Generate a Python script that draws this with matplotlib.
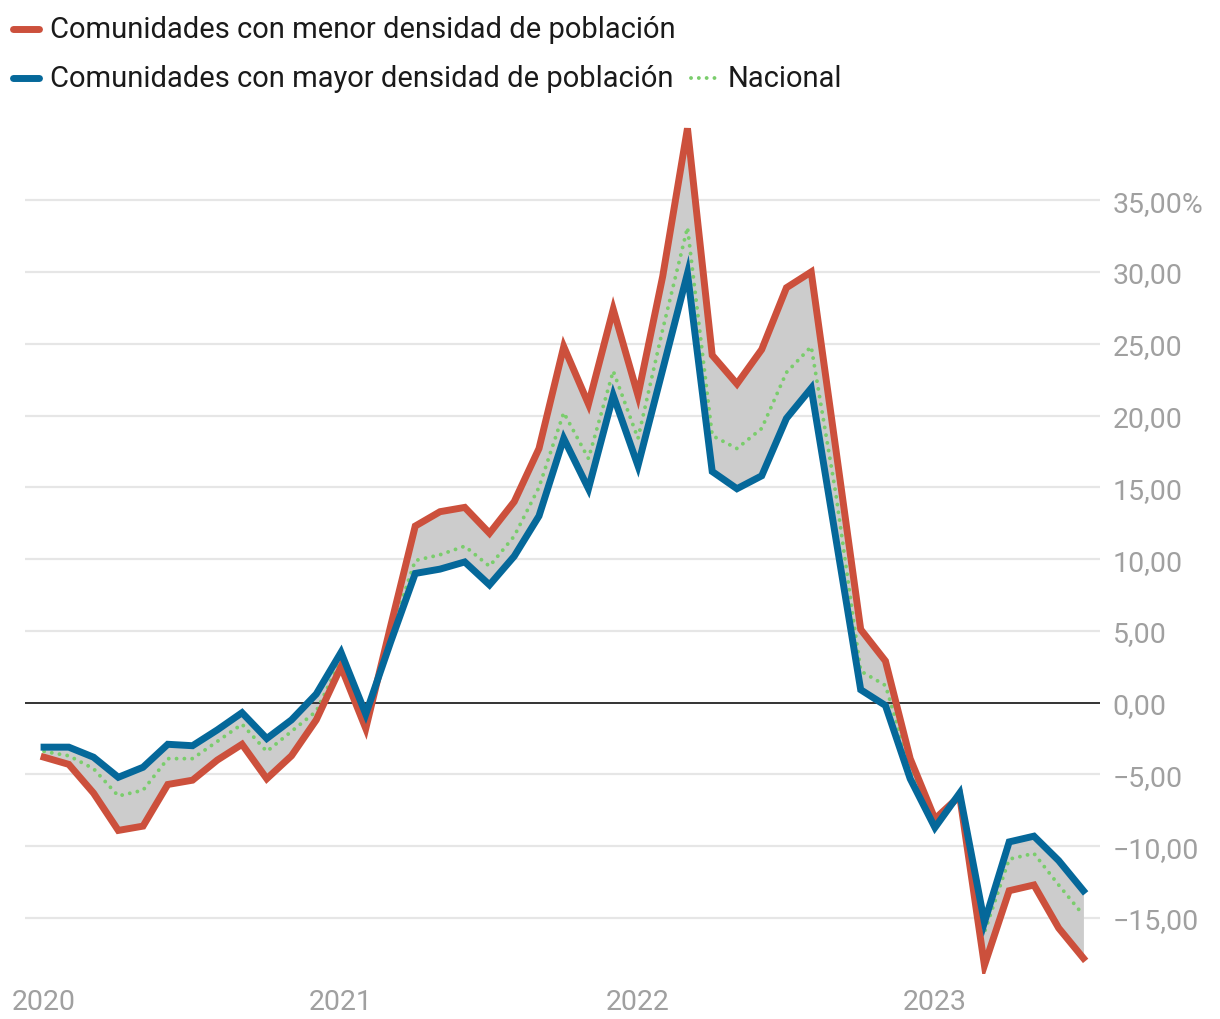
import numpy as np
import matplotlib.pyplot as plt
from matplotlib.lines import Line2D

plt.rcParams['font.family'] = ['Roboto', 'DejaVu Sans']

# meses desde enero 2020 hasta julio 2023
meses = np.arange(43)

menor = [-3.8, -4.3, -6.3, -8.9, -8.6, -5.7, -5.4, -4.0, -2.9, -5.3, -3.7, -1.2,
         2.5, -1.8, 5.3, 12.3, 13.3, 13.6, 11.8, 14.0, 17.7, 24.8, 20.8, 27.4,
         21.4, 29.7, 40.0, 24.2, 22.2, 24.6, 28.9, 30.0, 17.6, 5.1, 2.9, -3.9,
         -8.1, -6.5, -18.3, -13.1, -12.7, -15.7, -17.8]

mayor = [-3.1, -3.1, -3.8, -5.2, -4.5, -2.9, -3.0, -1.9, -0.7, -2.5, -1.2, 0.6,
         3.5, -0.8, 4.2, 9.0, 9.3, 9.8, 8.2, 10.2, 13.0, 18.4, 14.9, 21.4,
         16.5, 23.2, 29.9, 16.1, 14.9, 15.8, 19.8, 21.9, 11.4, 0.9, -0.2, -5.3,
         -8.7, -6.3, -15.3, -9.7, -9.3, -11.0, -13.1]

nacional = [-3.4, -3.7, -4.6, -6.5, -6.1, -3.9, -3.9, -2.7, -1.5, -3.4, -2.0, -0.6,
            3.0, -1.2, 4.8, 9.9, 10.3, 10.9, 9.5, 11.6, 15.0, 20.2, 17.0, 23.1,
            18.4, 26.0, 33.1, 18.6, 17.7, 19.1, 23.0, 24.8, 14.5, 2.2, 1.2, -4.5,
            -8.4, -6.4, -16.0, -10.9, -10.5, -12.7, -14.8]

y_ticks = [-15, -10, -5, 0, 5, 10, 15, 20, 25, 30, 35]
y_labels = ['\u221215,00', '\u221210,00', '\u22125,00', '0,00', '5,00', '10,00',
            '15,00', '20,00', '25,00', '30,00', '35,00%']
x_ticks = [0, 12, 24, 36]
x_labels = ['2020', '2021', '2022', '2023']

ROJO = '#cc503c'
AZUL = '#05689a'
VERDE = '#7acd6c'
GRIS = '#a0a0a0'
PUNTOS = (0, (0.01, 2.0))

fig = plt.figure(figsize=(12.2, 10.2), dpi=100)
ax = fig.add_axes([25 / 1220, 45 / 1020, 1075 / 1220, 860 / 1020])

ax.set_xlim(-0.77, 42.67)
ax.set_ylim(-18.9, 41.0)

for t in y_ticks:
    if t != 0:
        ax.axhline(t, color='#e6e6e6', lw=1.6, zorder=0)
ax.axhline(0, color='#333333', lw=1.4, zorder=2)

ax.fill_between(meses, menor, mayor, color='#cccccc', lw=0, zorder=1)
ax.plot(meses, nacional, color=VERDE, lw=2.8, ls=PUNTOS,
        dash_capstyle='round', zorder=3)
ax.plot(meses, menor, color=ROJO, lw=5, solid_joinstyle='miter', zorder=4)
ax.plot(meses, mayor, color=AZUL, lw=5, solid_joinstyle='miter', zorder=5)

ax.yaxis.tick_right()
ax.set_yticks(y_ticks)
ax.set_yticklabels(y_labels)
ax.set_xticks(x_ticks)
ax.set_xticklabels(x_labels)
ax.tick_params(axis='both', length=0, labelsize=20.5, labelcolor=GRIS)
ax.tick_params(axis='y', pad=9)
ax.tick_params(axis='x', pad=10)
for s in ax.spines.values():
    s.set_visible(False)

# leyenda manual
def item(x0, y, color, texto, ls='-', lw=5.0):
    fig.add_artist(Line2D([x0 / 1220, (x0 + 26) / 1220], [1 - y / 1020, 1 - y / 1020],
                          color=color, lw=lw, ls=ls, solid_capstyle='round',
                          dash_capstyle='round'))
    fig.text((x0 + 37) / 1220, 1 - y / 1020, texto, fontsize=21,
             color='#1a1a1a', va='center', ha='left')

item(13, 30, ROJO, 'Comunidades con menor densidad de población')
item(13, 79, AZUL, 'Comunidades con mayor densidad de población')
item(691, 79, VERDE, 'Nacional', ls=PUNTOS, lw=2.8)

fig.savefig('out.png', dpi=100)
